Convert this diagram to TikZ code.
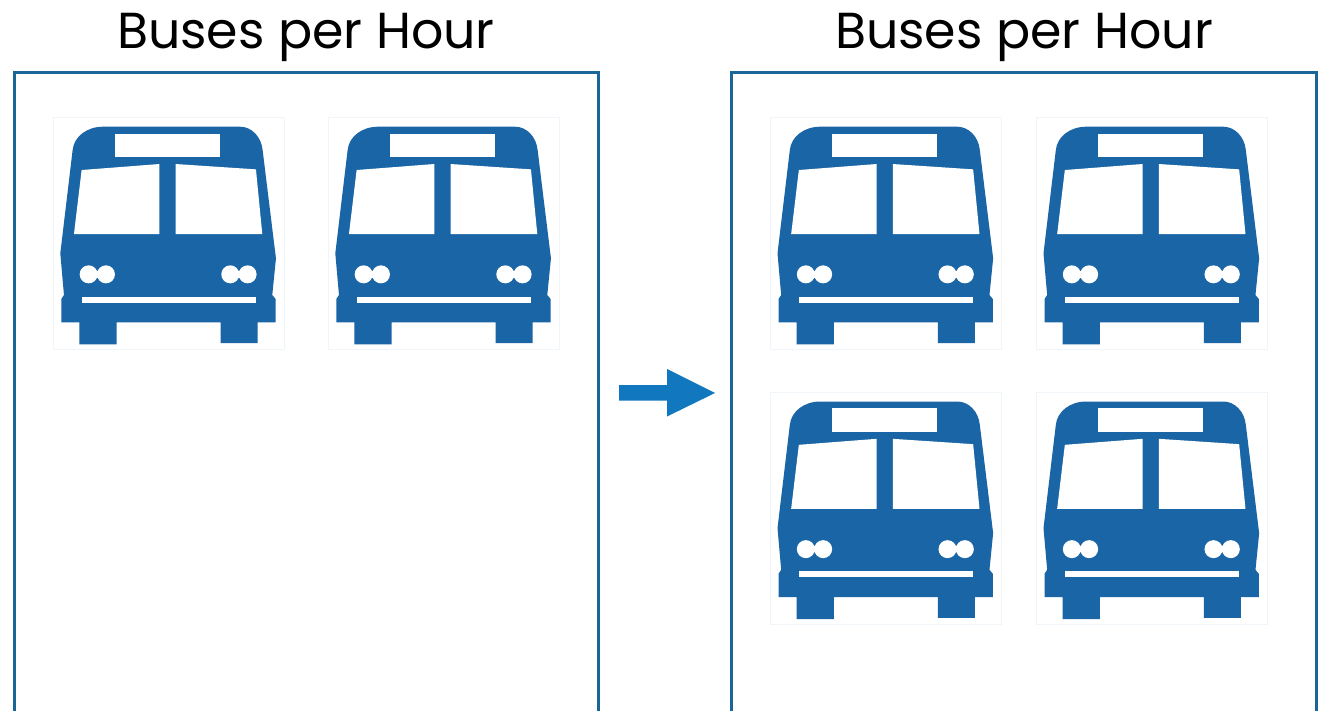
\documentclass[tikz,border=0pt]{standalone}
\usepackage{fontspec}
\setmainfont{Poppins}
\definecolor{busblue}{HTML}{1A65A5}
\definecolor{framec}{HTML}{1A6699}
\definecolor{arrowc}{HTML}{1178BF}
\definecolor{boxc}{HTML}{F0F5FA}
\tikzset{
  panel/.style={draw=framec,line width=3pt,fill=white},
  titlec/.style={font=\fontsize{50.6}{54}\selectfont,text=black,inner sep=0pt,anchor=base},
  busfill/.style={fill=busblue,draw=none},
  buswhite/.style={fill=white,draw=none},
  bus/.pic={
    \begin{scope}[x=0.3333pt,y=-0.3333pt,shift={(-40,-38)}]
    \draw[boxc,line width=0.8pt,fill=white] (40,38) rectangle (733,733);
    \path[busfill] (190,65) -- (600,65) .. controls (635,65) and (664,95) .. (668,135)
      -- (708,460) -- (697,570) -- (707,582) -- (707,652) -- (653,652) -- (653,714)
      -- (542,714) -- (542,652) -- (230,652) -- (230,718) -- (118,718) -- (118,652)
      -- (64,652) -- (64,582) -- (72,570) -- (61,445) -- (98,135)
      .. controls (102,95) and (140,65) .. (190,65) -- cycle;
    \path[buswhite] (225,86) rectangle (541,156);
    \path[buswhite] (125,195) -- (358,177) -- (358,387) -- (102,387) -- cycle;
    \path[buswhite] (407,177) -- (648,193) -- (667,387) -- (407,387) -- cycle;
    \path[buswhite] (146,508) circle[radius=27];
    \path[buswhite] (198,508) circle[radius=27];
    \path[buswhite] (160,498) rectangle (184,518);
    \path[buswhite] (571,508) circle[radius=27];
    \path[buswhite] (623,508) circle[radius=27];
    \path[buswhite] (585,498) rectangle (609,518);
    \path[buswhite] (125,575) rectangle (649,593);
    \end{scope}
  }
}
\begin{document}
\begin{tikzpicture}[x=1pt,y=-1pt]
\useasboundingbox (0,0) rectangle (1322,711);
\fill[white] (0,0) rectangle (1322,711);
\draw[panel] (14,720) -- (14,73) -- (598,73) -- (598,720);
\draw[panel] (731,720) -- (731,73) -- (1316,73) -- (1316,720);
\node[titlec] (titleL) at (306,49) {Buses per Hour};
\node[titlec] (titleR) at (1024,49) {Buses per Hour};
\pic at (53.3,117.7) {bus};
\pic at (328.3,117.7) {bus};
\pic at (770.5,117.7) {bus};
\pic at (1036.5,117.7) {bus};
\pic at (770.5,392.5) {bus};
\pic at (1036.5,392.5) {bus};
\path[fill=arrowc] (619,385) -- (667,385) -- (667,369) -- (715,393) -- (667,416.5) -- (667,400.7) -- (619,400.7) -- cycle;
\end{tikzpicture}
\end{document}
